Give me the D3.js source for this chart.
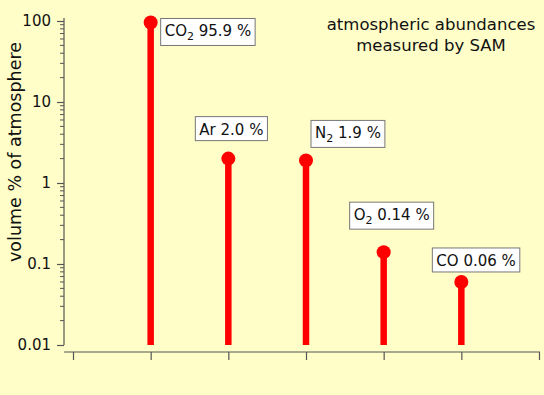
<!DOCTYPE html>
<html><head><meta charset="utf-8">
<script src="https://cdn.jsdelivr.net/npm/d3@7"></script>
<style>
html,body{margin:0;padding:0;background:#FFFEC8;}
svg{display:block;}
text{font-family:"DejaVu Sans",Verdana,sans-serif;fill:#111;}
</style></head>
<body>
<script>
const gases = ["CO2", "Ar", "N2", "O2", "CO"];
const gasBase = ["CO", "Ar", "N", "O", "CO"];
const gasSub = ["2", "", "2", "2", ""];
const percents = [95.9, 2.0, 1.9, 0.14, 0.06];
const labelValues = ["95.9 %", "2.0 %", "1.9 %", "0.14 %", "0.06 %"];
const yTickLabels = ["0.01", "0.1", "1", "10", "100"];
const titleLines = ["atmospheric abundances", "measured by SAM"];
const yTitle = "volume % of atmosphere";

const W = 544, H = 395;
const svg = d3.select("body").append("svg").attr("width", W).attr("height", H);
svg.append("rect").attr("width", W).attr("height", H).attr("fill", "#FFFEC8");

const x = d3.scaleLinear().domain([0, 6]).range([73, 539]);
const y = d3.scaleLog().domain([0.01, 100]).range([345, 21]);

const axisColor = "#555";

// Y axis
const yAxis = d3.axisLeft(y)
  .tickValues(d3.range(-2, 2.01, 1).map(e => Math.pow(10, e)))
  .tickFormat((d, i) => yTickLabels[i])
  .tickSize(7).tickPadding(6);
const gy = svg.append("g").attr("transform", "translate(64,0)").call(yAxis);
gy.select(".domain").remove();
gy.selectAll(".tick line").attr("stroke", axisColor).attr("stroke-width", 1.2);
gy.selectAll(".tick text").attr("font-size", 15).style("font-family", '"DejaVu Sans",Verdana,sans-serif').attr("fill", "#111");
svg.append("line").attr("x1", 64).attr("x2", 64).attr("y1", 18).attr("y2", 345)
  .attr("stroke", axisColor).attr("stroke-width", 1.2);
// minor ticks
const minor = [];
for (let e = -2; e < 2; e++) for (let m = 2; m <= 9; m++) minor.push(m * Math.pow(10, e));
svg.append("g").selectAll("line").data(minor).join("line")
  .attr("x1", 60).attr("x2", 64)
  .attr("y1", d => y(d)).attr("y2", d => y(d))
  .attr("stroke", axisColor).attr("stroke-width", 1);

// X axis
const gx = svg.append("g").attr("transform", "translate(0,352)")
  .call(d3.axisBottom(x).ticks(6).tickSize(8).tickFormat(""));
gx.select(".domain").remove();
gx.selectAll(".tick line").attr("stroke", axisColor).attr("stroke-width", 1.2);
svg.append("line").attr("x1", 64).attr("x2", 540).attr("y1", 352).attr("y2", 352)
  .attr("stroke", axisColor).attr("stroke-width", 1.2);

// Stems
svg.append("g").selectAll("line").data(percents).join("line")
  .attr("x1", (d, i) => x(i + 1)).attr("x2", (d, i) => x(i + 1))
  .attr("y1", y(0.01)).attr("y2", d => y(d))
  .attr("stroke", "#FF0000").attr("stroke-width", 6.5);
svg.append("g").selectAll("circle").data(percents).join("circle")
  .attr("cx", (d, i) => x(i + 1)).attr("cy", d => y(d)).attr("r", 7)
  .attr("fill", "#FF0000");

// Labels (box positions relative to stem/point)
const boxOffsets = [[10, -4], [-33, -42], [5, -40], [-34, -50], [-29, -34]];
percents.forEach((v, i) => {
  const cx = x(i + 1), cy = y(v);
  const [dx, dy] = boxOffsets[i];
  const g = svg.append("g").attr("transform", `translate(${cx + dx},${cy + dy})`);
  const t = g.append("text").attr("x", 4).attr("y", 18).attr("font-size", 15);
  t.append("tspan").text(gasBase[i]);
  if (gasSub[i]) t.append("tspan").attr("font-size", 11).attr("dy", 4).text(gasSub[i]);
  t.append("tspan").attr("dy", gasSub[i] ? -4 : 0).text(" " + labelValues[i]);
  const bb = t.node().getBBox();
  g.insert("rect", "text").attr("x", 0).attr("y", 0)
    .attr("width", bb.width + 8).attr("height", gasSub[i] ? 27 : 24)
    .attr("fill", "#fff").attr("stroke", "#777").attr("stroke-width", 1);
});

// Title
svg.append("text").attr("x", 431).attr("y", 30).attr("text-anchor", "middle")
  .attr("font-size", 16.5).text(titleLines[0]);
svg.append("text").attr("x", 431).attr("y", 51).attr("text-anchor", "middle")
  .attr("font-size", 16.5).text(titleLines[1]);

// Y title
svg.append("text").attr("transform", "translate(21,152) rotate(-90)")
  .attr("text-anchor", "middle").attr("font-size", 17.5).text(yTitle);
</script>
</body></html>
